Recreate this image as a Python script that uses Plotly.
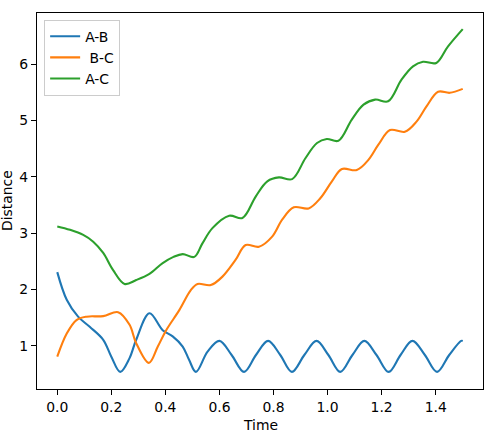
import plotly.graph_objects as go

# ---- data ----
t_ab = [0, 0.035, 0.077, 0.12, 0.17, 0.20, 0.233, 0.267, 0.292, 0.341, 0.39, 0.427,
        0.464, 0.488, 0.513, 0.556, 0.6, 0.645, 0.691, 0.735, 0.78, 0.825, 0.868,
        0.914, 0.959, 1.003, 1.047, 1.092, 1.136, 1.181, 1.226, 1.27, 1.314, 1.36,
        1.405, 1.45, 1.494, 1.5]
ab = [2.31, 1.82, 1.52, 1.34, 1.11, 0.81, 0.54, 0.78, 1.11, 1.58, 1.28, 1.17,
      0.99, 0.75, 0.54, 0.90, 1.09, 0.84, 0.54, 0.84, 1.09, 0.84, 0.54,
      0.84, 1.09, 0.84, 0.54, 0.84, 1.09, 0.84, 0.54, 0.84, 1.09, 0.84,
      0.54, 0.84, 1.09, 1.09]

t_bc = [0, 0.035, 0.071, 0.108, 0.17, 0.225, 0.267, 0.292, 0.339, 0.372, 0.403,
        0.452, 0.494, 0.519, 0.568, 0.611, 0.66, 0.697, 0.746, 0.795, 0.832, 0.875,
        0.93, 0.973, 1.016, 1.053, 1.108, 1.151, 1.188, 1.231, 1.286, 1.329, 1.366,
        1.409, 1.452, 1.5]
bc = [0.81, 1.22, 1.46, 1.52, 1.53, 1.60, 1.38, 1.05, 0.70, 0.99, 1.28,
      1.64, 1.99, 2.10, 2.08, 2.23, 2.53, 2.79, 2.76, 2.94, 3.24, 3.46,
      3.44, 3.62, 3.92, 4.14, 4.12, 4.30, 4.57, 4.83, 4.80, 4.98, 5.25,
      5.51, 5.49, 5.56]

t_ac = [0, 0.047, 0.096, 0.133, 0.17, 0.206, 0.249, 0.292, 0.341, 0.39, 0.43,
        0.464, 0.507, 0.537, 0.574, 0.636, 0.685, 0.734, 0.777, 0.82, 0.869,
        0.918, 0.961, 0.997, 1.04, 1.089, 1.133, 1.176, 1.224, 1.273, 1.316,
        1.353, 1.402, 1.445, 1.5]
ac = [3.12, 3.06, 2.97, 2.85, 2.65, 2.35, 2.10, 2.17, 2.28, 2.47, 2.58,
      2.63, 2.58, 2.82, 3.09, 3.31, 3.27, 3.65, 3.92, 3.99, 3.96,
      4.33, 4.60, 4.67, 4.64, 5.01, 5.28, 5.37, 5.34, 5.72, 5.96,
      6.04, 6.02, 6.31, 6.62]

series_names = ["A-B", " B-C", "A-C"]
x_tick_vals = [0.0, 0.2, 0.4, 0.6, 0.8, 1.0, 1.2, 1.4]
x_tick_text = ["0.0", "0.2", "0.4", "0.6", "0.8", "1.0", "1.2", "1.4"]
y_tick_vals = [1, 2, 3, 4, 5, 6]
y_tick_text = ["1", "2", "3", "4", "5", "6"]
x_title = "Time"
y_title = "Distance"

colors = ["#1f77b4", "#ff7f0e", "#2ca02c"]
font = "DejaVu Sans"
fs = 13.9

fig = go.Figure()
for tx, ys, name, c in zip([t_ab, t_bc, t_ac], [ab, bc, ac], series_names, colors):
    fig.add_trace(go.Scatter(x=tx, y=ys, name=name, mode="lines",
                             line=dict(color=c, width=2.1, shape="spline", smoothing=1.0)))

axis_common = dict(showgrid=False, zeroline=False, showline=True, linecolor="black",
                   linewidth=1.1, mirror=True, ticks="outside", ticklen=5,
                   tickwidth=1.1, tickcolor="black", automargin=False,
                   tickfont=dict(family=font, size=fs, color="black"))

fig.update_layout(
    width=494, height=435,
    margin=dict(l=37, r=11, t=13, b=46),
    paper_bgcolor="white", plot_bgcolor="white",
    font=dict(family=font, size=fs, color="black"),
    xaxis=dict(range=[-0.075, 1.575], tickvals=x_tick_vals, ticktext=x_tick_text,
               **axis_common),
    yaxis=dict(range=[0.237, 6.906], tickvals=y_tick_vals, ticktext=y_tick_text,
               **axis_common),
    legend=dict(x=0.016, y=0.982, xanchor="left", yanchor="top",
                bgcolor="rgba(255,255,255,0.8)", bordercolor="#cccccc", borderwidth=1,
                font=dict(family=font, size=fs), tracegroupgap=0, itemwidth=30),
    showlegend=True,
    annotations=[
        dict(text=x_title, xref="paper", yref="paper", x=0.5, y=0, yshift=-36,
             xanchor="center", yanchor="middle", showarrow=False,
             font=dict(family=font, size=fs, color="black")),
        dict(text=y_title, xref="paper", yref="paper", x=0, y=0.5, xshift=-30,
             xanchor="center", yanchor="middle", textangle=-90, showarrow=False,
             font=dict(family=font, size=fs, color="black")),
    ],
)

fig.write_html("out.html", config={"displayModeBar": False},
               post_script="document.body.style.margin='0';")
